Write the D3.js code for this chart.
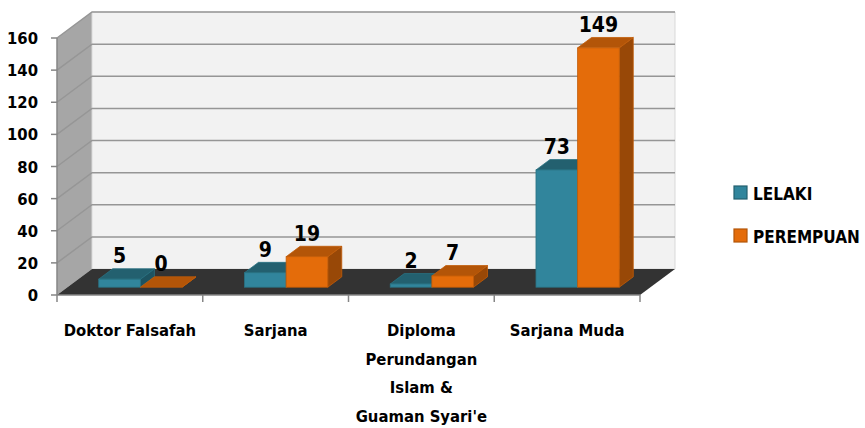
<!DOCTYPE html>
<html>
<head>
<meta charset="utf-8">
<script src="https://cdn.jsdelivr.net/npm/d3@7"></script>
<style>
  body { margin:0; background:#fff; }
  svg text { font-family:"Liberation Sans Narrow","DejaVu Sans Condensed",sans-serif; font-weight:bold; fill:#000; }
</style>
</head>
<body>
<script>
var categories = ["Doktor Falsafah", "Sarjana", "Diploma\nPerundangan\nIslam &\nGuaman Syari'e", "Sarjana Muda"]
var seriesNames = ["LELAKI", "PEREMPUAN"]
var lelaki = [5, 9, 2, 73]
var perempuan = [0, 19, 7, 149]
var yTicks = [0, 20, 40, 60, 80, 100, 120, 140, 160]

var WIDTH = 865, HEIGHT = 428
var DX = 35, DY = -26          // depth offset of the 3d box
var D0 = 0.3, D1 = 0.7         // bar depth inside the box

var colors = [
  {front:'#31859c', top:'#23606f', side:'#1d5361', stroke:'#2a7283'},
  {front:'#e46c0a', top:'#b35508', side:'#984807', stroke:'#c25c08'}
]

var svg = d3.select('body').append('svg')
  .attr('width', WIDTH).attr('height', HEIGHT)

var x = d3.scaleBand().domain(d3.range(categories.length)).range([57, 640])
var y = d3.scaleLinear().domain([0, 160]).range([295, 38])

function pt(px, py, d){ return [px + d*DX, py + d*DY] }
function poly(pts){ return 'M' + pts.map(function(p){ return p.join(',') }).join('L') + 'Z' }

var x0 = x.range()[0], x1 = x.range()[1]

// side wall
svg.append('path')
  .attr('d', poly([pt(x0, y(0), 0), pt(x0, y(160), 0), pt(x0, y(160), 1), pt(x0, y(0), 1)]))
  .attr('fill', '#a6a6a6')
// back wall
svg.append('path')
  .attr('d', poly([pt(x0, y(0), 1), pt(x0, y(160), 1), pt(x1, y(160), 1), pt(x1, y(0), 1)]))
  .attr('fill', '#f2f2f2').attr('stroke', '#d9d9d9').attr('stroke-width', 1)

// gridlines on both walls
var grid = svg.append('g')
grid.selectAll('.gs').data(yTicks.slice(1)).enter().append('path')
  .attr('d', function(v){ var a = pt(x0, y(v), 0), b = pt(x0, y(v), 1), c = pt(x1, y(v), 1); return 'M' + a + 'L' + b + 'L' + c })
  .attr('fill', 'none').attr('stroke', '#969696').attr('stroke-width', 1.5)

// floor
svg.append('path')
  .attr('d', poly([pt(x0, y(0), 0), pt(x1, y(0), 0), pt(x1, y(0), 1), pt(x0, y(0), 1)]))
  .attr('fill', '#333333')

// y axis
svg.append('line').attr('x1', x0).attr('x2', x0).attr('y1', y(0)).attr('y2', y(160))
  .attr('stroke', '#868686').attr('stroke-width', 1.5)
svg.selectAll('.ytick').data(yTicks).enter().append('line')
  .attr('x1', x0 - 6).attr('x2', x0).attr('y1', function(v){ return y(v) }).attr('y2', function(v){ return y(v) })
  .attr('stroke', '#868686').attr('stroke-width', 1.5)
svg.selectAll('.ylab').data(yTicks).enter().append('text')
  .attr('x', 38).attr('y', function(v){ return y(v) + 6 })
  .attr('text-anchor', 'end').style('font-size', '16.5px')
  .text(function(v){ return v })

// x axis
svg.append('line').attr('x1', x0).attr('x2', x1).attr('y1', y(0)).attr('y2', y(0))
  .attr('stroke', '#868686').attr('stroke-width', 1.5)
svg.selectAll('.xtick').data(d3.range(categories.length + 1)).enter().append('line')
  .attr('x1', function(i){ return x0 + i*x.bandwidth() }).attr('x2', function(i){ return x0 + i*x.bandwidth() })
  .attr('y1', y(0)).attr('y2', y(0) + 7)
  .attr('stroke', '#868686').attr('stroke-width', 1.5)

var xl = svg.selectAll('.xlab').data(categories).enter().append('text')
  .attr('text-anchor', 'middle').style('font-size', '16.5px')
xl.each(function(c, i){
  var t = d3.select(this)
  c.split('\n').forEach(function(line, k){
    t.append('tspan').attr('x', x(i) + x.bandwidth()/2).attr('y', 336 + k*28.5).text(line)
  })
})

// bars
var bw = x.bandwidth() / 3.5
var bars = []
categories.forEach(function(c, i){
  [lelaki[i], perempuan[i]].forEach(function(v, s){
    bars.push({cat:i, s:s, v:v, left: x(i) + x.bandwidth()/2 - bw + s*bw})
  })
})

var bg = svg.append('g')
bars.forEach(function(b){
  var col = colors[b.s]
  var l = b.left, r = b.left + bw, yb = y(0), yt = y(b.v)
  var g = bg.append('g')
  // right side
  g.append('path').attr('d', poly([pt(r, yb, D0), pt(r, yb, D1), pt(r, yt, D1), pt(r, yt, D0)]))
    .attr('fill', col.side).attr('stroke', col.stroke).attr('stroke-width', 0.8)
  // top
  g.append('path').attr('d', poly([pt(l, yt, D0), pt(r, yt, D0), pt(r, yt, D1), pt(l, yt, D1)]))
    .attr('fill', col.top).attr('stroke', col.stroke).attr('stroke-width', 0.8)
  // front
  if (b.v > 0) {
    var f0 = pt(l, yt, D0), f1 = pt(r, yb, D0)
    g.append('rect').attr('x', f0[0]).attr('y', f0[1]).attr('width', f1[0]-f0[0]).attr('height', f1[1]-f0[1])
      .attr('fill', col.front).attr('stroke', col.stroke).attr('stroke-width', 0.8)
  }
})

// data labels
svg.selectAll('.dlab').data(bars).enter().append('text')
  .attr('x', function(b){ return pt(b.left + bw/2, 0, D0)[0] })
  .attr('y', function(b){ return pt(0, y(b.v), D0)[1] - 16 })
  .attr('text-anchor', 'middle').style('font-size', '21px')
  .text(function(b){ return b.v })

// legend
var leg = svg.selectAll('.leg').data(seriesNames).enter().append('g')
  .attr('transform', function(d, i){ return 'translate(734,' + (186 + i*43) + ')' })
leg.append('rect').attr('width', 13).attr('height', 13)
  .attr('fill', function(d, i){ return colors[i].front })
  .attr('stroke', function(d, i){ return colors[i].top }).attr('stroke-width', 1.2)
leg.append('text').attr('x', 19).attr('y', 14).style('font-size', '17px')
  .text(function(d){ return d })
</script>
</body>
</html>
